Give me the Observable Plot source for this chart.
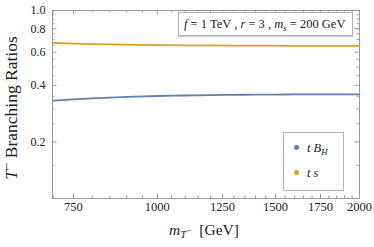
<!DOCTYPE html>
<html>
<head>
<meta charset="utf-8">
<script src="https://cdn.jsdelivr.net/npm/d3@7"></script>
<script src="https://cdn.jsdelivr.net/npm/@observablehq/plot@0.6"></script>
<style>
  html, body { margin: 0; padding: 0; background: #fff; }
  #wrap { position: relative; width: 374px; height: 247px; font-family: "Liberation Serif", "DejaVu Serif", serif; color: #222; }
  #wrap svg { position: absolute; left: 0; top: 0; }
  .ov { position: absolute; white-space: nowrap; line-height: 1; }
  .box { position: absolute; border: 1px solid #b5b5b5; background: #fff; box-sizing: border-box; }
  .dot { position: absolute; width: 5px; height: 5px; border-radius: 50%; }
  .sub { position: relative; top: 0.3em; font-size: 70%; }
  .sup { position: relative; top: -0.45em; font-size: 75%; }
</style>
</head>
<body>
<div id="wrap"></div>
<script>
// ---- data ----
const massTminus = [700, 750, 800, 900, 1000, 1100, 1200, 1300, 1400, 1500, 1600, 1700, 1800, 1900, 2000];
const brTBH      = [0.332, 0.337, 0.341, 0.347, 0.351, 0.353, 0.355, 0.356, 0.357, 0.357, 0.358, 0.358, 0.358, 0.358, 0.358];
const brTS       = [0.672, 0.667, 0.663, 0.658, 0.655, 0.653, 0.652, 0.651, 0.650, 0.650, 0.649, 0.649, 0.649, 0.649, 0.649];
const seriesNames = ["tBH", "ts"];
const seriesColors = ["#5E81B5", "#E19C24"];
const xTickLabels = [750, 1000, 1250, 1500, 1750, 2000];
const xMinorTicks = [700, 800, 850, 900, 950, 1050, 1100, 1150, 1200, 1300, 1350, 1400, 1450, 1550, 1600, 1650, 1700, 1800, 1850, 1900, 1950];
const yTickLabels = [0.2, 0.4, 0.6, 0.8, 1.0];
const yMinorTicks = [0.1, 0.15, 0.25, 0.3, 0.35, 0.45, 0.5, 0.55, 0.65, 0.7, 0.75, 0.85, 0.9, 0.95];

const rows = [];
massTminus.forEach((m, i) => {
  rows.push({m, br: brTBH[i], s: seriesNames[0]});
  rows.push({m, br: brTS[i], s: seriesNames[1]});
});

const W = 374, H = 247, mL = 52, mR = 15, mT = 10, mB = 49;
const fw = W - mL - mR, fh = H - mT - mB;
const tickCol = "#9a9a9a";
const major = 4.5, minor = 2.5;

const chart = Plot.plot({
  width: W, height: H,
  marginLeft: mL, marginRight: mR, marginTop: mT, marginBottom: mB,
  style: {fontFamily: "'Liberation Serif', 'DejaVu Serif', serif", fontSize: "12px", color: "#222", background: "transparent"},
  x: {type: "log", domain: [698, 2000], axis: null},
  y: {type: "log", domain: [0.1, 1.0], axis: null},
  color: {domain: seriesNames, range: seriesColors},
  marks: [
    // inward frame ticks
    Plot.ruleY(yTickLabels, {y: d => d, stroke: tickCol, insetRight: fw - major}),
    Plot.ruleY(yMinorTicks, {y: d => d, stroke: tickCol, insetRight: fw - minor}),
    Plot.ruleY(yTickLabels, {y: d => d, stroke: tickCol, insetLeft: fw - major}),
    Plot.ruleY(yMinorTicks, {y: d => d, stroke: tickCol, insetLeft: fw - minor}),
    Plot.ruleX(xTickLabels, {x: d => d, stroke: tickCol, insetTop: fh - major}),
    Plot.ruleX(xMinorTicks, {x: d => d, stroke: tickCol, insetTop: fh - minor}),
    Plot.ruleX(xTickLabels, {x: d => d, stroke: tickCol, insetBottom: fh - major}),
    Plot.ruleX(xMinorTicks, {x: d => d, stroke: tickCol, insetBottom: fh - minor}),
    Plot.frame({stroke: tickCol, strokeWidth: 1}),
    // tick labels
    Plot.text(xTickLabels, {x: d => d, frameAnchor: "bottom", dy: 12, text: d => String(d), fontSize: 12.5, fill: "#222"}),
    Plot.text(yTickLabels, {y: d => d, frameAnchor: "left", dx: -7, textAnchor: "end", text: d => d.toFixed(1), fontSize: 12, fill: "#222"}),
    Plot.line(rows, {x: "m", y: "br", z: "s", stroke: "s", strokeWidth: 1.8, curve: "monotone-x"})
  ]
});

const wrap = document.getElementById("wrap");
wrap.appendChild(chart);

function add(html) { wrap.insertAdjacentHTML("beforeend", html); }

// y-axis title
add(`<div class="ov" style="left:12px; top:108px; transform: translate(-50%,-50%) rotate(-90deg); font-size:17.5px;"><i>T</i><span class="sup">−</span> Branching Ratios</div>`);
// x-axis title
add(`<div class="ov" style="left:204px; top:222px; transform: translateX(-50%); font-size:15.5px;"><i>m</i><span class="sub"><i>T</i><span class="sup" style="font-size:85%">−</span></span>&nbsp;&nbsp;[GeV]</div>`);
// annotation box
add(`<div class="box" style="left:178px; top:12px; width:175px; height:24px; box-shadow: 0 1px 1px #ccc;"></div>`);
add(`<div class="ov" style="left:184px; top:18px; font-size:12.5px;"><i>f</i> = 1 TeV , <i>r</i> = 3 , <i>m<span class="sub">s</span></i> = 200 GeV</div>`);
// legend
add(`<div class="box" style="left:283px; top:132px; width:61px; height:59px;"></div>`);
add(`<div class="dot" style="left:293.5px; top:145px; background:${seriesColors[0]}"></div>`);
add(`<div class="dot" style="left:293.5px; top:170px; background:${seriesColors[1]}"></div>`);
add(`<div class="ov" style="left:307px; top:142px; font-size:12.5px;"><i>t B<span class="sub">H</span></i></div>`);
add(`<div class="ov" style="left:307px; top:167px; font-size:12.5px;"><i>t s</i></div>`);
</script>
</body>
</html>
